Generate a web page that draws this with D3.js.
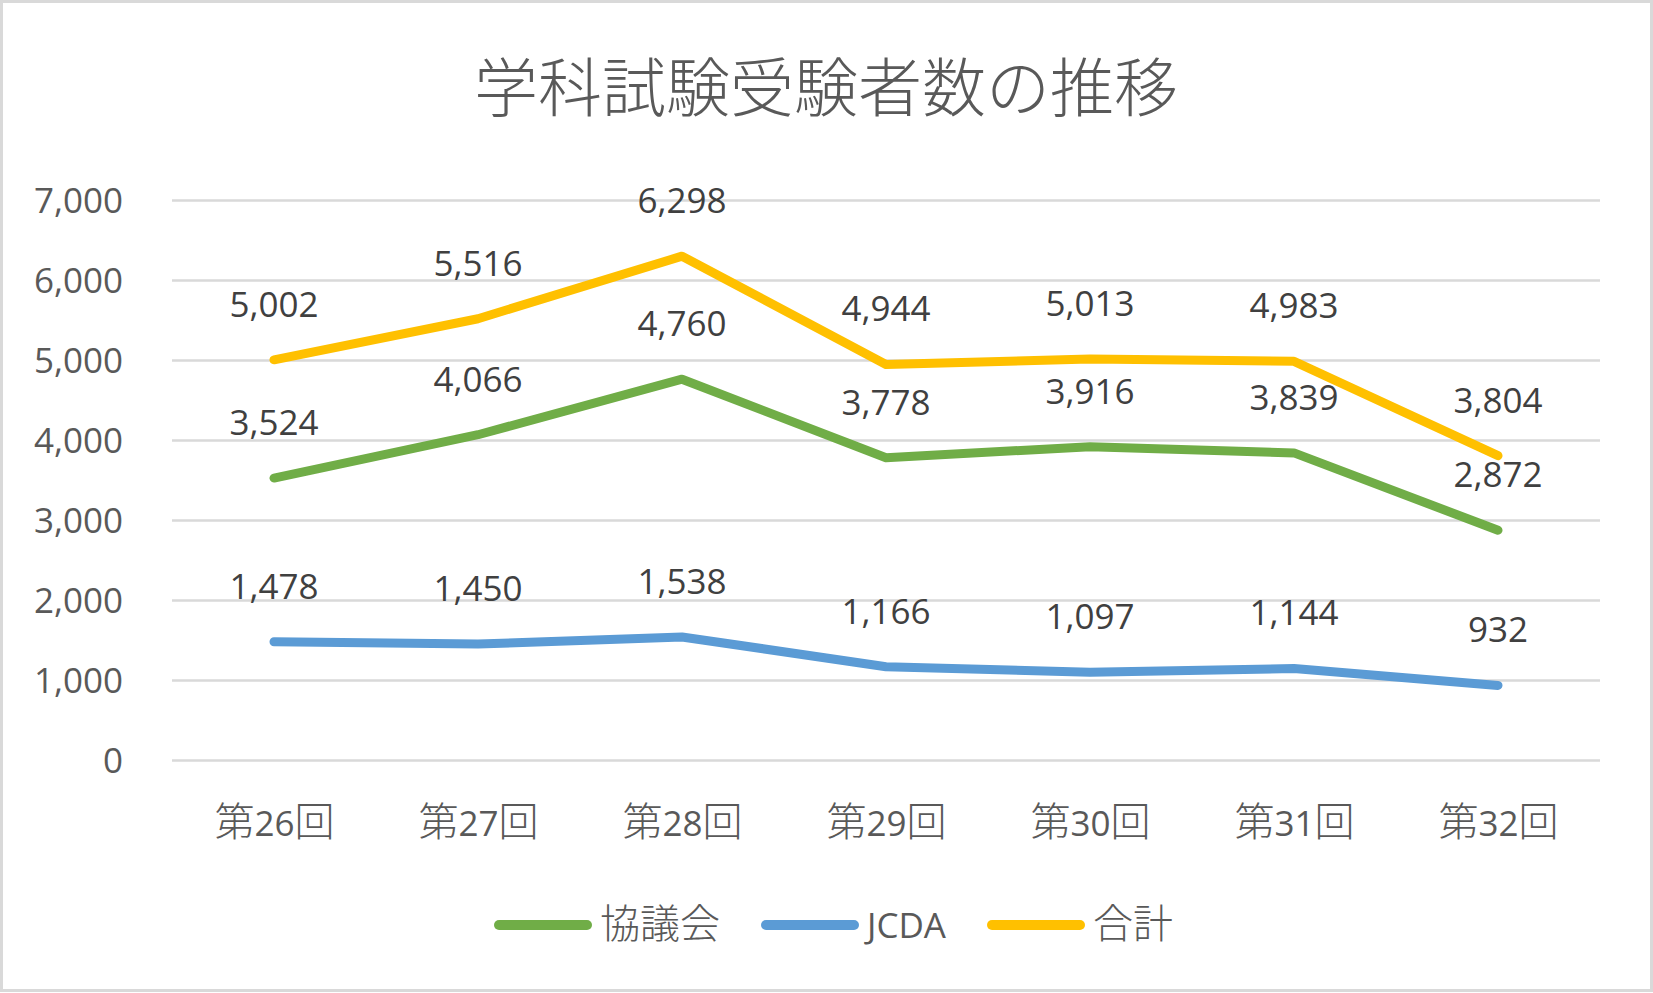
<!DOCTYPE html>
<html>
<head>
<meta charset="utf-8">
<script src="https://cdn.jsdelivr.net/npm/d3@7"></script>
<style>
  body { margin: 0; background: #fff; }
  svg { display: block; }
</style>
</head>
<body>
<div id="graph-container"></div>
<script>
const width = 1653, height = 993;

const title = "学科試験受験者数の推移";
const categories = ["第26回", "第27回", "第28回", "第29回", "第30回", "第31回", "第32回"];
const seriesNames = ["協議会", "JCDA", "合計"];
const kyogikai = [3524, 4066, 4760, 3778, 3916, 3839, 2872];
const jcda = [1478, 1450, 1538, 1166, 1097, 1144, 932];
const total = [5002, 5516, 6298, 4944, 5013, 4983, 3804];
const yTicks = [0, 1000, 2000, 3000, 4000, 5000, 6000, 7000];
const colors = ["#70AD47", "#5B9BD5", "#FFC000"];

const series = [kyogikai, jcda, total].map((values, i) => ({
  name: seriesNames[i],
  color: colors[i],
  values: values.map((v, j) => ({ cat: categories[j], v }))
}));

const latinFont = "'Open Sans', 'Noto Sans', sans-serif";
const cjkFont = "'Noto Sans CJK JP', sans-serif";

// latin runs and CJK runs get different sizes, like Excel's font fallback
function mixedText(sel, str, latinSize, cjkSize) {
  const parts = str.split(/([\u3000-\u9fff\uff00-\uffef]+)/).filter(s => s.length);
  parts.forEach(p => {
    const cjk = /[\u3000-\u9fff\uff00-\uffef]/.test(p);
    sel.append("tspan")
      .attr("font-family", cjk ? cjkFont : latinFont)
      .attr("font-size", cjk ? cjkSize : latinSize)
      .attr("font-weight", cjk ? 300 : 400)
      .text(p);
  });
  return sel;
}

const x = d3.scalePoint()
  .domain(categories)
  .range([172, 1600])
  .padding(0.5);

const y = d3.scaleLinear()
  .domain([0, 7000])
  .range([760, 200]);

const svg = d3.create("svg")
  .attr("width", width)
  .attr("height", height)
  .attr("viewBox", [0, 0, width, height]);

svg.append("rect")
  .attr("x", 1.5).attr("y", 1.5)
  .attr("width", width - 3).attr("height", height - 4)
  .attr("fill", "#fff")
  .attr("stroke", "#d9d9d9")
  .attr("stroke-width", 3);

svg.append("text")
  .attr("x", 826)
  .attr("y", 111)
  .attr("text-anchor", "middle")
  .attr("font-family", cjkFont)
  .attr("font-weight", 300)
  .attr("font-size", 64)
  .attr("fill", "#595959")
  .text(title);

// gridlines + y labels
const gy = svg.append("g")
  .attr("transform", "translate(172,0)")
  .call(d3.axisLeft(y).tickValues(yTicks).tickSize(-1428).tickFormat(d3.format(",")));
gy.select(".domain").remove();
gy.selectAll(".tick line").attr("stroke", "#d9d9d9").attr("stroke-width", 2.5);
gy.selectAll(".tick text")
  .attr("x", -49)
  .attr("dy", null)
  .attr("y", 12.5)
  .attr("font-family", latinFont)
  .attr("font-size", 35)
  .attr("fill", "#595959");

// x labels
const gx = svg.append("g")
  .attr("transform", "translate(0,760)")
  .call(d3.axisBottom(x).tickSize(0).tickFormat(""));
gx.select(".domain").remove();
gx.selectAll(".tick").each(function(d) {
  const t = d3.select(this).append("text")
    .attr("y", 76)
    .attr("text-anchor", "middle")
    .attr("fill", "#595959");
  mixedText(t, d, 35, 40);
});

const line = d3.line()
  .x(d => x(d.cat))
  .y(d => y(d.v));

svg.selectAll("path.series")
  .data(series)
  .join("path")
  .attr("class", "series")
  .attr("fill", "none")
  .attr("stroke", d => d.color)
  .attr("stroke-width", 9)
  .attr("stroke-linecap", "round")
  .attr("stroke-linejoin", "round")
  .attr("d", d => line(d.values));

svg.selectAll("g.labels")
  .data(series)
  .join("g")
  .attr("class", "labels")
  .selectAll("text")
  .data(d => d.values)
  .join("text")
  .attr("x", d => x(d.cat))
  .attr("y", d => y(d.v) - 43)
  .attr("text-anchor", "middle")
  .attr("font-family", latinFont)
  .attr("font-size", 35)
  .attr("fill", "#404040")
  .text(d => d3.format(",")(d.v));

// legend
const legend = svg.append("g");
let lx = 494;
series.forEach(s => {
  legend.append("line")
    .attr("x1", lx + 5).attr("x2", lx + 93)
    .attr("y1", 925).attr("y2", 925)
    .attr("stroke", s.color)
    .attr("stroke-width", 10)
    .attr("stroke-linecap", "round");
  const t = legend.append("text")
    .attr("x", lx + 106)
    .attr("y", 938)
    .attr("fill", "#595959");
  mixedText(t, s.name, 35, 40);
  lx += 106 + t.node().getComputedTextLength() + 41;
});

document.getElementById("graph-container").appendChild(svg.node());

// re-run legend spacing now that text is in the document
lx = 494;
legend.selectAll("line").each(function(d, i) {
  const t = legend.selectAll("text").nodes()[i];
  d3.select(this).attr("x1", lx + 5).attr("x2", lx + 93);
  d3.select(t).attr("x", lx + 106);
  lx += 106 + t.getComputedTextLength() + 41;
});
</script>
</body>
</html>
